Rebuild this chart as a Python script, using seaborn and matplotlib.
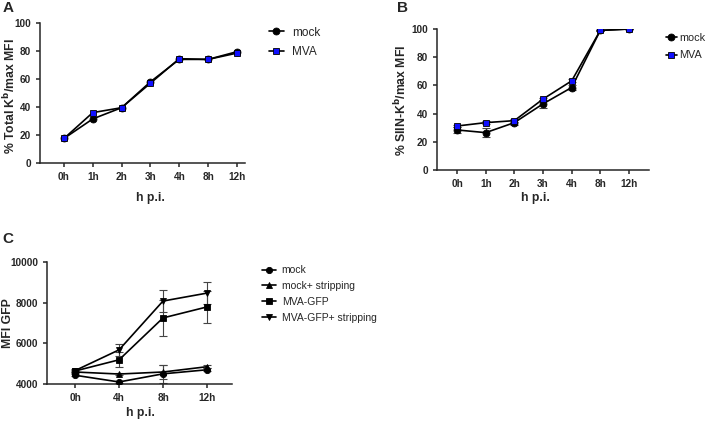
import numpy as np
import pandas as pd
import matplotlib
matplotlib.use('Agg')
import matplotlib.pyplot as plt
import seaborn as sns

# 데이터
times_ab = ['0h', '1h', '2h', '3h', '4h', '8h', '12h']
a_mock = [17.5, 31.5, 39.5, 58, 74, 74, 79.5]
a_mva = [17.5, 36, 39.5, 57, 74.5, 74, 78.5]

b_mock = [28.4, 26.5, 33.6, 46.9, 58.5, 99, 100]
b_mock_err = [2.4, 3.0, 2.0, 2.7, 1.8, 0.5, 0.3]
b_mva = [31.2, 33.6, 35.0, 50.3, 63.2, 99, 100]
b_mva_err = [1.0, 1.0, 1.0, 1.0, 1.0, 0.5, 0.3]

times_c = ['0h', '4h', '8h', '12h']
c_mock = [4430, 4100, 4500, 4700]
c_mock_err = [60, 60, 450, 80]
c_mock_strip = [4590, 4490, 4590, 4850]
c_mock_strip_err = [60, 60, 330, 80]
c_gfp = [4640, 5190, 7250, 7790]
c_gfp_err = [60, 360, 900, 780]
c_gfp_strip = [4660, 5680, 8080, 8470]
c_gfp_strip_err = [60, 290, 550, 540]

sns.set_style('ticks')
plt.rcParams['font.family'] = ['Liberation Sans', 'DejaVu Sans']
plt.rcParams['axes.linewidth'] = 1.1
plt.rcParams['xtick.major.width'] = 1.1
plt.rcParams['ytick.major.width'] = 1.1
plt.rcParams['xtick.major.size'] = 3
plt.rcParams['ytick.major.size'] = 3

fig = plt.figure(figsize=(7.08, 4.23), dpi=100)
W, H = 708, 423


def add_ax(x0, x1, ytop, ybot):
    return fig.add_axes([x0 / W, 1 - ybot / H, (x1 - x0) / W, (ybot - ytop) / H])


def draw_series(ax, labels, vals, err, marker, color, name, ms=5):
    df = pd.DataFrame({'t': labels, 'v': vals})
    if err is not None:
        ax.errorbar(np.arange(len(vals)), vals, yerr=err, fmt='none', ecolor='#444444',
                    elinewidth=0.8, capsize=2.8, capthick=0.8, zorder=2)
    sns.lineplot(data=df, x='t', y='v', ax=ax, color='black', lw=1.2, sort=False,
                 marker=marker, markersize=ms, markerfacecolor=color,
                 markeredgecolor='black', markeredgewidth=0.6, label=name, zorder=3)


def style_ax(ax, xlim, ylim, yticks):
    sns.despine(ax=ax)
    ax.set_xlim(*xlim)
    ax.set_ylim(*ylim)
    ax.set_yticks(yticks)
    ax.set_xlabel('')
    ax.set_ylabel('')
    ax.tick_params(labelsize=7.2)
    for t in ax.get_xticklabels() + ax.get_yticklabels():
        t.set_fontweight('bold')
    ax.get_legend().remove()


# A
axA = add_ax(40, 245, 23, 163)
draw_series(axA, times_ab, a_mock, None, 'o', 'black', 'mock')
draw_series(axA, times_ab, a_mva, None, 's', '#1010ff', 'MVA')
style_ax(axA, (-0.83, 6.28), (0, 100), [0, 20, 40, 60, 80, 100])
hA, lA = axA.get_legend_handles_labels()

# B
axB = add_ax(437, 649, 29, 170)
draw_series(axB, times_ab, b_mock, b_mock_err, 'o', 'black', 'mock')
draw_series(axB, times_ab, b_mva, b_mva_err, 's', '#1010ff', 'MVA')
style_ax(axB, (-0.70, 6.70), (0, 100), [0, 20, 40, 60, 80, 100])
hB, lB = axB.get_legend_handles_labels()

# C
axC = add_ax(47, 232, 262, 384)
draw_series(axC, times_c, c_mock, c_mock_err, 'o', 'black', 'mock', ms=4.5)
draw_series(axC, times_c, c_mock_strip, c_mock_strip_err, '^', 'black', 'mock+ stripping', ms=4.5)
draw_series(axC, times_c, c_gfp, c_gfp_err, 's', 'black', 'MVA-GFP', ms=4.5)
draw_series(axC, times_c, c_gfp_strip, c_gfp_strip_err, 'v', 'black', 'MVA-GFP+ stripping', ms=4.5)
style_ax(axC, (-0.64, 3.57), (4000, 10000), [4000, 6000, 8000, 10000])
hC, lC = axC.get_legend_handles_labels()

# 축 라벨
fig.text(10 / W, 1 - 96 / H, '% Total K$^\\mathbf{b}$/max MFI', rotation=90, ha='center', va='center',
         fontsize=8.8, fontweight='bold')
fig.text(401 / W, 1 - 100 / H, '% SIIN-K$^\\mathbf{b}$/max MFI', rotation=90, ha='center', va='center',
         fontsize=8.8, fontweight='bold')
fig.text(8 / W, 1 - 323 / H, 'MFI GFP', rotation=90, ha='center', va='center',
         fontsize=8.8, fontweight='bold')
fig.text(150 / W, 1 - 198 / H, 'h p.i.', ha='center', va='center', fontsize=8.8, fontweight='bold')
fig.text(535 / W, 1 - 198 / H, 'h p.i.', ha='center', va='center', fontsize=8.8, fontweight='bold')
fig.text(140 / W, 1 - 413 / H, 'h p.i.', ha='center', va='center', fontsize=8.8, fontweight='bold')

# 패널 라벨
fig.text(8 / W, 1 - 8 / H, 'A', ha='center', va='center', fontsize=11, fontweight='bold')
fig.text(402 / W, 1 - 8 / H, 'B', ha='center', va='center', fontsize=11, fontweight='bold')
fig.text(8 / W, 1 - 239 / H, 'C', ha='center', va='center', fontsize=11, fontweight='bold')

# 범례
fig.legend(hA, lA, loc='upper left', bbox_to_anchor=(258 / W, 1 - 16 / H), frameon=False,
           fontsize=8.5, handlelength=1.27, handletextpad=0.75, labelspacing=0.6)
fig.legend(hB, lB, loc='upper left', bbox_to_anchor=(656 / W, 1 - 23 / H), frameon=False,
           fontsize=7.8, handlelength=1.05, handletextpad=0.2, labelspacing=0.7)
fig.legend(hC, lC, loc='upper left', bbox_to_anchor=(253 / W, 1 - 256 / H), frameon=False,
           fontsize=7.5, handlelength=1.3, handletextpad=0.55, labelspacing=0.55)

fig.savefig('out.png', dpi=100)
